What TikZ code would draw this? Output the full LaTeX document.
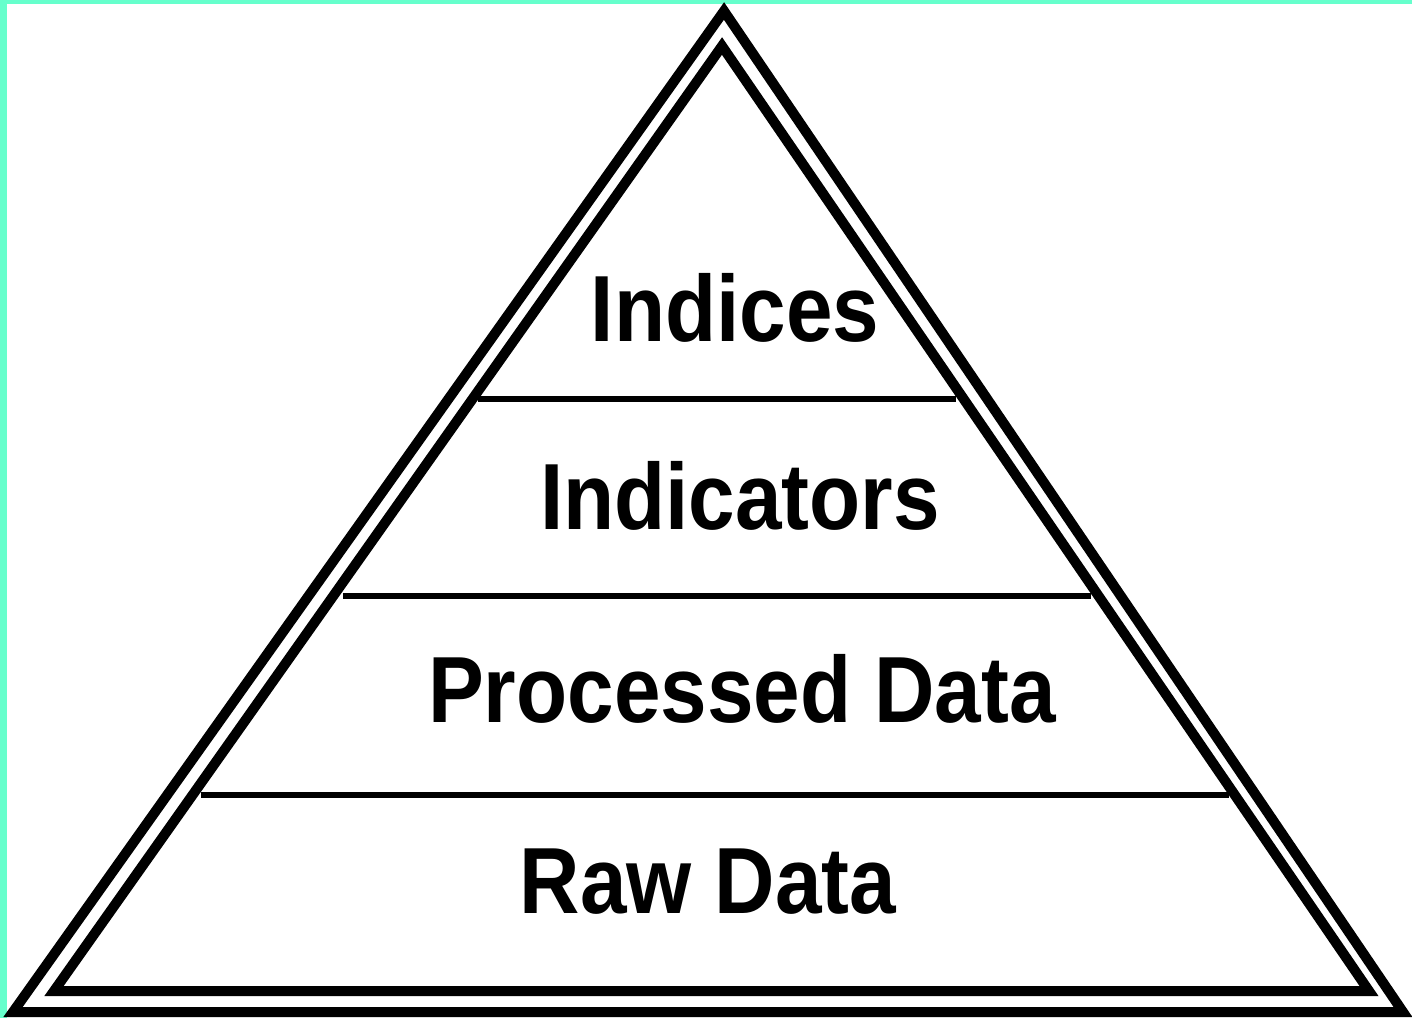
\documentclass[tikz,border=0pt]{standalone}
\usepackage{fontspec}
\setmainfont{Liberation Sans}
\definecolor{aqua}{HTML}{66FFCC}
\begin{document}
\begin{tikzpicture}[x=1pt,y=-1pt,
  tri/.style={draw=black,line width=10pt,line join=miter,miter limit=10},
  divider/.style={draw=black,line width=6.5pt},
  lvl/.style={anchor=base,inner sep=0pt,font=\fontsize{94}{94}\selectfont\bfseries}]
\useasboundingbox (0,0) rectangle (1412,1018);
\fill[white] (0,0) rectangle (1412,1018);
\fill[aqua] (0,0) rectangle (1412,4);
\fill[aqua] (0,0) rectangle (7,1018);
% outer and inner triangles
\coordinate (oA) at (724,11);
\coordinate (oL) at (13,1012);
\coordinate (oR) at (1403,1012);
\coordinate (iA) at (722,46);
\coordinate (iL) at (54,991);
\coordinate (iR) at (1369,991);
\draw[tri] (oA) -- (oL) -- (oR) -- cycle;
\draw[tri] (iA) -- (iL) -- (iR) -- cycle;
% dividers
\coordinate (d1l) at (478,399); \coordinate (d1r) at (956,399);
\coordinate (d2l) at (343,596); \coordinate (d2r) at (1091,596);
\coordinate (d3l) at (201,795); \coordinate (d3r) at (1229,795);
\draw[divider] (d1l) -- (d1r);
\draw[divider] (d2l) -- (d2r);
\draw[divider] (d3l) -- (d3r);
% labels
\node[lvl] (indices) at (735,341) {\scalebox{0.89}[1]{Indices}};
\node[lvl] (indicators) at (740,529) {\scalebox{0.89}[1]{Indicators}};
\node[lvl] (processed) at (742,722) {\scalebox{0.89}[1]{Processed Data}};
\node[lvl] (raw) at (708,913) {\scalebox{0.89}[1]{Raw Data}};
\end{tikzpicture}
\end{document}
